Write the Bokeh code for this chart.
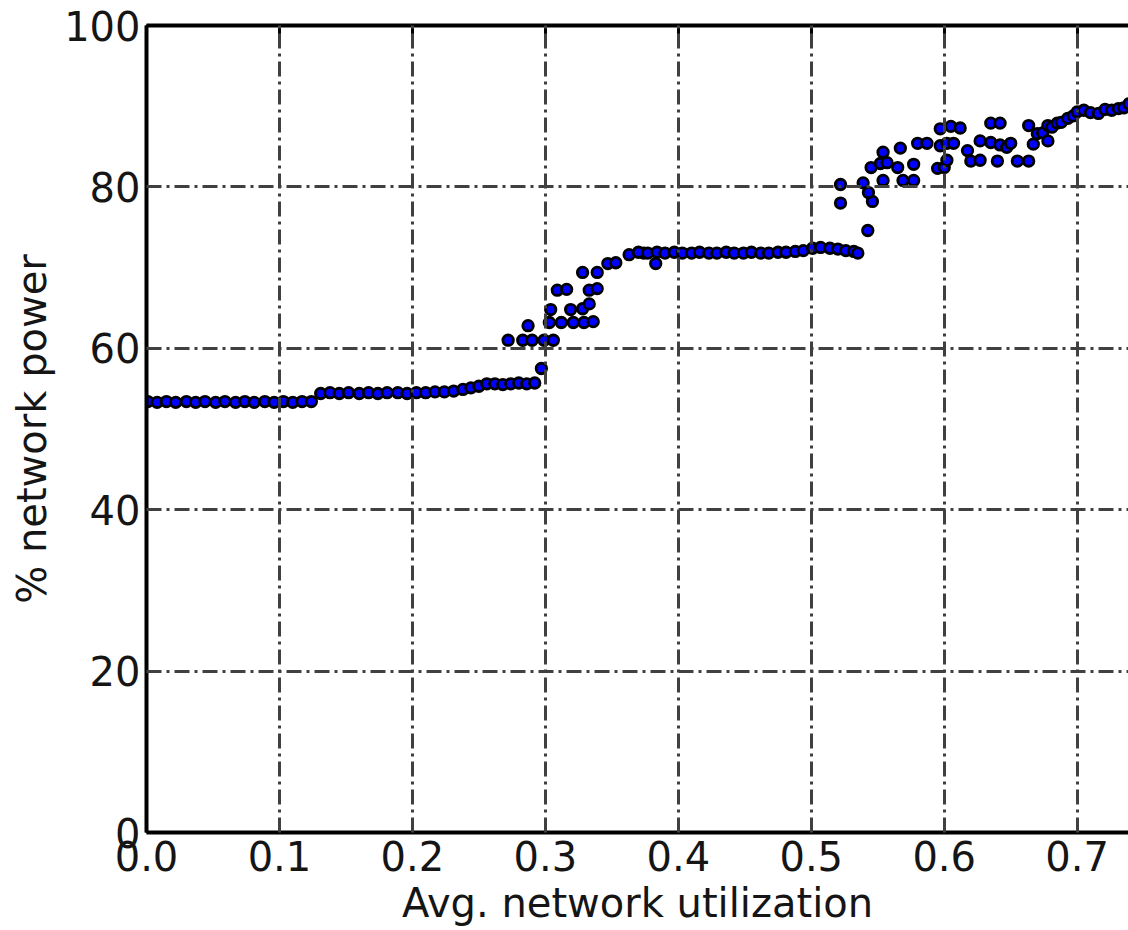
from bokeh.plotting import figure
from bokeh.models import Range1d, FixedTicker, LinearAxis, BasicTickFormatter
from bokeh.embed import file_html
from bokeh.resources import INLINE

# ---- data ----
# low-load regime
low_util = [0.001, 0.008, 0.015, 0.022, 0.030, 0.037, 0.044, 0.052, 0.059, 0.067,
            0.074, 0.081, 0.089, 0.096, 0.103, 0.110, 0.117, 0.124,
            0.131, 0.138, 0.145, 0.152, 0.160, 0.167, 0.174, 0.181, 0.189, 0.196,
            0.203, 0.210, 0.217, 0.224, 0.231, 0.238, 0.244, 0.250, 0.256, 0.262,
            0.268, 0.274, 0.280, 0.286, 0.292, 0.297]
low_power = [53.4, 53.3, 53.4, 53.3, 53.4, 53.3, 53.4, 53.3, 53.4, 53.3,
             53.4, 53.3, 53.4, 53.3, 53.4, 53.3, 53.4, 53.4,
             54.4, 54.5, 54.4, 54.5, 54.4, 54.5, 54.4, 54.5, 54.5, 54.4,
             54.5, 54.5, 54.6, 54.6, 54.7, 54.9, 55.1, 55.3, 55.6, 55.6,
             55.5, 55.6, 55.7, 55.6, 55.7, 57.5]

# transition + plateau regime
mid_util = [0.272, 0.283, 0.287, 0.290, 0.299, 0.306,
            0.303, 0.312, 0.321, 0.329, 0.336,
            0.304, 0.319, 0.328, 0.333,
            0.309, 0.316, 0.333, 0.339,
            0.328, 0.339, 0.347, 0.353, 0.363, 0.374,
            0.370, 0.377, 0.383, 0.384, 0.390, 0.397, 0.403, 0.410, 0.416, 0.423,
            0.429, 0.436, 0.442, 0.449, 0.455, 0.462, 0.468, 0.475, 0.481, 0.488,
            0.494, 0.501, 0.507, 0.514, 0.520, 0.526, 0.532, 0.535]
mid_power = [61.0, 61.0, 62.8, 61.0, 61.0, 61.0,
             63.2, 63.2, 63.2, 63.2, 63.3,
             64.8, 64.8, 64.9, 65.5,
             67.2, 67.3, 67.2, 67.4,
             69.4, 69.4, 70.5, 70.6, 71.6, 71.8,
             71.9, 71.8, 70.5, 71.9, 71.8, 71.9, 71.8, 71.8, 71.9, 71.8,
             71.8, 71.9, 71.8, 71.8, 71.9, 71.8, 71.8, 71.9, 71.9, 72.0,
             72.1, 72.4, 72.5, 72.4, 72.3, 72.1, 72.0, 71.8]

# high-load regime
high_util = [0.522, 0.522, 0.5425, 0.539, 0.546, 0.543, 0.545, 0.552, 0.554, 0.554,
             0.557, 0.565, 0.567, 0.569, 0.577, 0.577, 0.580, 0.587, 0.595, 0.597,
             0.597, 0.600, 0.602, 0.602, 0.605, 0.607, 0.612, 0.6175, 0.620, 0.627,
             0.627, 0.635, 0.635, 0.640, 0.642, 0.642, 0.647, 0.650, 0.655, 0.6635,
             0.6635, 0.667, 0.670, 0.674, 0.678, 0.678, 0.681, 0.685, 0.688, 0.693,
             0.697, 0.700, 0.705, 0.710, 0.716, 0.721, 0.726, 0.731, 0.735, 0.739]
high_power = [80.3, 78.0, 74.6, 80.5, 78.2, 79.3, 82.4, 82.9, 80.8, 84.3,
              83.0, 82.4, 84.8, 80.8, 82.8, 80.8, 85.4, 85.4, 82.3, 87.2,
              85.1, 82.4, 83.3, 85.4, 87.5, 85.4, 87.3, 84.5, 83.2, 83.3,
              85.7, 87.9, 85.5, 83.2, 87.9, 85.2, 84.9, 85.4, 83.2, 83.2,
              87.6, 85.3, 86.6, 86.7, 85.7, 87.6, 87.4, 87.9, 88.0, 88.5,
              88.8, 89.3, 89.5, 89.2, 89.1, 89.6, 89.5, 89.7, 89.8, 90.3]

x_ticks = [0.0, 0.1, 0.2, 0.3, 0.4, 0.5, 0.6, 0.7]
x_tick_labels = ["0.0", "0.1", "0.2", "0.3", "0.4", "0.5", "0.6", "0.7"]
y_ticks = [0, 20, 40, 60, 80, 100]
y_tick_labels = ["0", "20", "40", "60", "80", "100"]

util = low_util + mid_util + high_util
power = low_power + mid_power + high_power

FONT = "DejaVu Sans"

p = figure(width=1128, height=928, output_backend="svg", toolbar_location=None,
           x_range=Range1d(0, 0.7386), y_range=Range1d(0, 100),
           min_border_left=146, min_border_right=0, min_border_top=25,
           min_border_bottom=96)
p.outline_line_color = None
p.background_fill_color = "white"
p.border_fill_color = "white"

p.scatter(util, power, size=10.5, fill_color="#0000ff", line_color="black",
          line_width=2.8)

for ax in (p.xaxis[0], p.yaxis[0]):
    ax.axis_line_width = 4
    ax.axis_line_color = "black"
    ax.major_tick_in = 10
    ax.major_tick_out = 0
    ax.major_tick_line_width = 3
    ax.major_tick_line_color = "black"
    ax.minor_tick_in = 0
    ax.minor_tick_out = 0
    ax.major_label_text_font = FONT
    ax.major_label_text_font_size = "40px"
    ax.major_label_text_color = "#151515"
    ax.axis_label_text_font = FONT
    ax.axis_label_text_font_size = "40px"
    ax.axis_label_text_font_style = "normal"
    ax.axis_label_text_color = "#151515"

p.xaxis.ticker = FixedTicker(ticks=x_ticks)
p.xaxis.formatter = BasicTickFormatter(precision=1)
p.xaxis.major_label_overrides = dict(zip(x_ticks, x_tick_labels))
p.xaxis.major_label_standoff = 8
p.xaxis.axis_label = "Avg. network utilization"
p.xaxis.axis_label_standoff = 6

p.yaxis.ticker = FixedTicker(ticks=y_ticks)
p.yaxis.major_label_overrides = dict(zip(y_ticks, y_tick_labels))
p.yaxis.major_label_standoff = 6
p.yaxis.axis_label = "% network power"
p.yaxis.axis_label_standoff = 6

top = LinearAxis(ticker=FixedTicker(ticks=x_ticks), axis_line_width=4,
                 axis_line_color="black", major_tick_in=10, major_tick_out=0,
                 major_tick_line_width=3, major_tick_line_color="black",
                 minor_tick_in=0, minor_tick_out=0,
                 major_label_text_font_size="0px", major_label_text_color=None,
                 major_label_standoff=0)
p.add_layout(top, "above")

p.xgrid.ticker = FixedTicker(ticks=x_ticks[1:])
p.ygrid.ticker = FixedTicker(ticks=y_ticks[1:-1])
for g in (p.xgrid[0], p.ygrid[0]):
    g.grid_line_color = "#404040"
    g.grid_line_width = 3
    g.grid_line_dash = "15 5 3 5"
    g.level = "annotation"

open("out.html", "w").write(file_html(p, INLINE))
